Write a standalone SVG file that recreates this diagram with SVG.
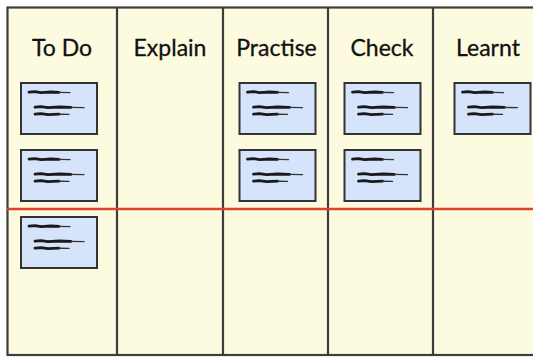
<svg xmlns="http://www.w3.org/2000/svg" width="533" height="358" viewBox="0 0 533 358">
<defs>
<style>
.board{fill:#fdfbdf;stroke:#3d3d3d;stroke-width:2.2}
.col{stroke:#3d3d3d;stroke-width:2.2}
.title{font-family:"Lato","Open Sans","Liberation Sans",sans-serif;font-size:23px;fill:#111;text-anchor:middle;stroke:#111;stroke-width:0.3}
.card{fill:#d5e3fb;stroke:#333;stroke-width:2}
.scr{fill:none;stroke:#1a1a1a;stroke-width:2.8;stroke-linecap:round;stroke-linejoin:round}
.thin{fill:none;stroke:#333;stroke-width:1.4;stroke-linecap:round}
.wip{stroke:#e0402c;stroke-width:2.6}
</style>
<g id="scribble">
<path class="scr" d="M8 9.2 L14 8.6 L20 9.6 L30 9 L38 9.4"/>
<path class="thin" d="M38 9.4 L49 9.6"/>
<path class="scr" d="M14 24.2 L20 23.6 L27 24.6 L38 24 L50 24.4"/>
<path class="thin" d="M50 24.4 L63 24.6"/>
<path class="scr" d="M14 31.2 L20 30.6 L27 31.6 L38 31.2"/>
<path class="thin" d="M38 31.2 L48 31.4"/>
</g>
</defs>
<rect width="533" height="358" fill="#ffffff"/>
<rect class="board" x="7.5" y="7.5" width="540" height="347.5"/>
<g id="columns">
<line class="col" x1="117" y1="7.5" x2="117" y2="355"/>
<line class="col" x1="223" y1="7.5" x2="223" y2="355"/>
<line class="col" x1="328" y1="7.5" x2="328" y2="355"/>
<line class="col" x1="433" y1="7.5" x2="433" y2="355"/>
</g>
<g id="col-todo"><text class="title" x="62" y="56">To Do</text></g>
<g id="col-explain"><text class="title" x="170" y="56">Explain</text></g>
<g id="col-practise"><text class="title" x="276.5" y="56">Practise</text></g>
<g id="col-check"><text class="title" x="382" y="56">Check</text></g>
<g id="col-learnt"><text class="title" x="488" y="56">Learnt</text></g>
<g id="card-todo-1"><rect class="card" x="21" y="83" width="76" height="51"/><use href="#scribble" x="21" y="83"/></g>
<g id="card-todo-2"><rect class="card" x="21" y="150" width="76" height="51"/><use href="#scribble" x="21" y="150"/></g>
<g id="card-todo-3"><rect class="card" x="21" y="217" width="76" height="51"/><use href="#scribble" x="21" y="217"/></g>
<g id="card-practise-1"><rect class="card" x="239.5" y="83" width="76" height="51"/><use href="#scribble" x="239.5" y="83"/></g>
<g id="card-practise-2"><rect class="card" x="239.5" y="150" width="76" height="51"/><use href="#scribble" x="239.5" y="150"/></g>
<g id="card-check-1"><rect class="card" x="344.5" y="83" width="76" height="51"/><use href="#scribble" x="344.5" y="83"/></g>
<g id="card-check-2"><rect class="card" x="344.5" y="150" width="76" height="51"/><use href="#scribble" x="344.5" y="150"/></g>
<g id="card-learnt-1"><rect class="card" x="454.5" y="83" width="76" height="51"/><use href="#scribble" x="454.5" y="83"/></g>
<g id="connectors">
<line class="wip" x1="7" y1="209" x2="533" y2="209"/>
</g>
</svg>
